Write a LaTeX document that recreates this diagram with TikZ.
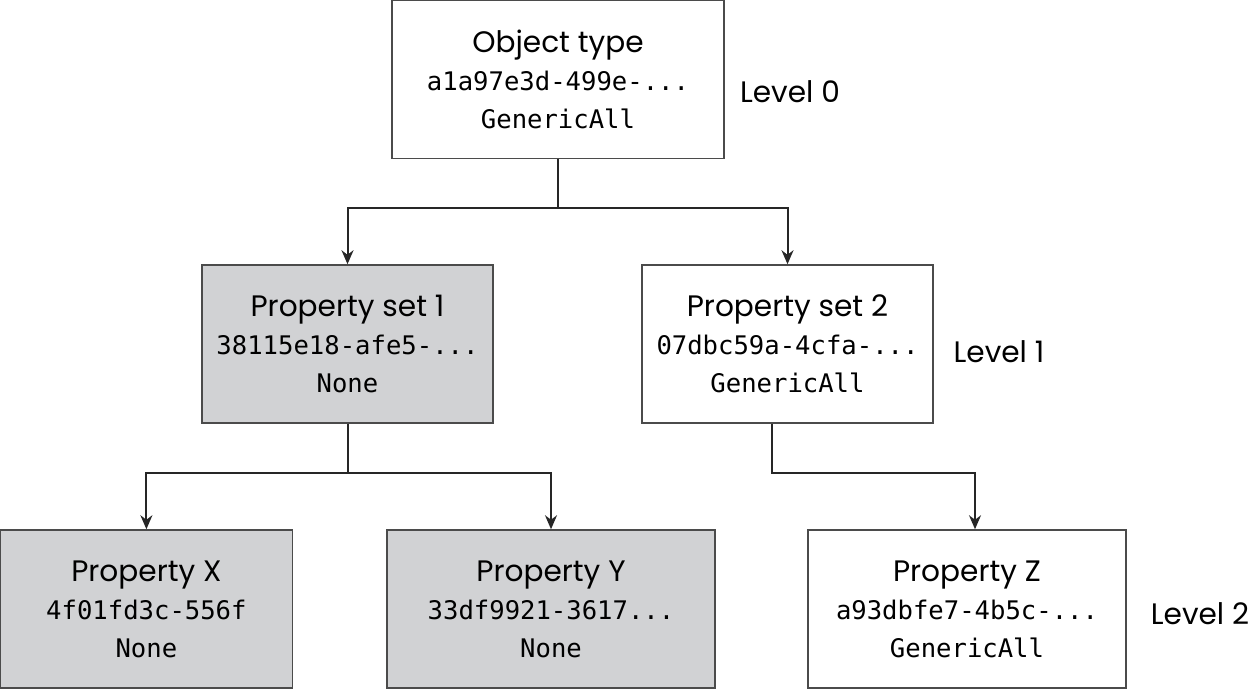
\documentclass[tikz,border=0pt]{standalone}
\usepackage{fontspec}
\setmainfont{Poppins}
\newfontfamily\guidfont{DejaVu Sans Mono}
\usepackage{xcolor}
\usepackage{tikz}
\usetikzlibrary{arrows.meta,calc,positioning}

\definecolor{setgray}{RGB}{209,210,212}
\definecolor{edgegray}{RGB}{75,75,75}

\newcommand{\aceentry}[3]{{\rmfamily\fontsize{14.8}{19}\selectfont #1}\\#2\\#3}

\tikzset{
  acebox/.style={draw=edgegray, line width=0.75pt, minimum width=#1, minimum height=79pt,
    inner sep=0pt, align=center, font=\guidfont\fontsize{12.8}{19}\selectfont},
  greybox/.style={acebox=#1, fill=setgray},
  lvl/.style={font=\fontsize{14.8}{17}\selectfont},
  link/.style={line width=1pt, draw=black!85},
  arr/.style={link, -{Stealth[length=7pt,width=6pt]}}
}

\begin{document}
\begin{tikzpicture}[x=0.5pt,y=0.5pt]
    \useasboundingbox (0,0) rectangle (1248,689);

    % Object type
    \node[acebox=166pt] (obj) at (558,609.5) {\aceentry{Object type}{a1a97e3d-499e-...}{GenericAll}};

    % Property sets
    \node[greybox=145.5pt] (set1) at (347.5,345) {\aceentry{Property set 1}{38115e18-afe5-...}{None}};
    \node[acebox=145.5pt] (set2) at (787.5,345) {\aceentry{Property set 2}{07dbc59a-4cfa-...}{GenericAll}};

    % Properties
    \node[greybox=146pt] (propx) at (146.4,80) {\aceentry{Property X}{4f01fd3c-556f}{None}};
    \node[greybox=164pt] (propy) at (551,80) {\aceentry{Property Y}{33df9921-3617...}{None}};
    \node[acebox=159pt] (propz) at (967,80) {\aceentry{Property Z}{a93dbfe7-4b5c-...}{GenericAll}};

    % Level labels
    \foreach \n/\x/\y in {0/790/597, 1/999/337, 2/1200/75} {
        \node[lvl] (lvl\n) at (\x,\y) {Level \n};
    }

    % Connectors
    \coordinate (fork0) at ($(obj.south)+(0,-48.5)$);
    \draw[link] (obj.south) -- (fork0);
    \draw[arr] (fork0) -| (set1.north);
    \draw[arr] (fork0) -| (set2.north);

    \coordinate (fork1) at ($(set1.south)+(0,-49)$);
    \draw[link] (set1.south) -- (fork1);
    \draw[arr] (fork1) -| (propx.north);
    \draw[arr] (fork1) -| (propy.north);

    \draw[arr] ([xshift=-7.75pt]set2.south) -- ++(0,-49) -| ([xshift=4pt]propz.north);
\end{tikzpicture}
\end{document}
